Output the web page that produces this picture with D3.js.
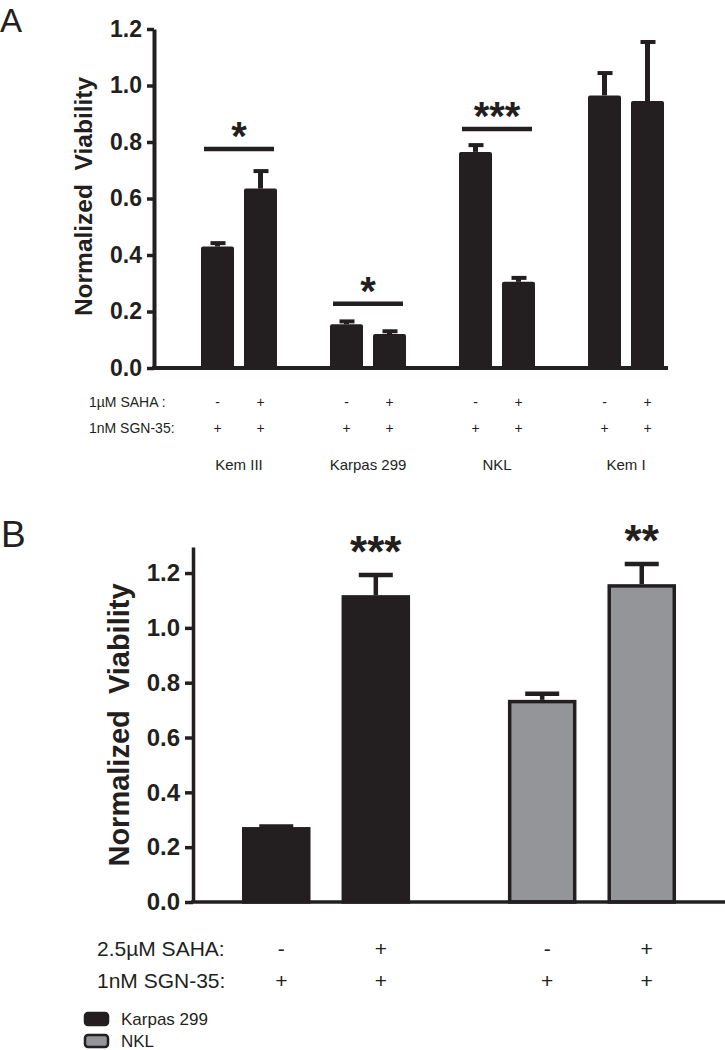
<!DOCTYPE html>
<html>
<head>
<meta charset="utf-8" />
<title>Normalized Viability</title>
<script src="https://d3js.org/d3.v7.min.js"></script>
<style>
    body { margin: 0; background: #fff; }
    text { font-family: "Liberation Sans", Arial, sans-serif; fill: #231f20; }
</style>
</head>
<body>
<script>
    // panel A data
    var cellsA = ["Kem III", "Karpas 299", "NKL", "Kem I"];
    var condA = ["minus", "plus"];
    var sahaA = ["-", "+"];
    var sgnA = ["+", "+"];
    var meanMinusA = [0.43, 0.155, 0.765, 0.965];
    var meanPlusA = [0.635, 0.12, 0.305, 0.945];
    var errMinusA = [0.012, 0.01, 0.024, 0.079];
    var errPlusA = [0.062, 0.01, 0.014, 0.209];
    var sigCellsA = ["Kem III", "Karpas 299", "NKL"];
    var sigLevelA = [0.775, 0.227, 0.846];
    var sigTextA = ["*", "*", "***"];
    var ticksA = [0, 0.2, 0.4, 0.6, 0.8, 1.0, 1.2];

    // panel B data
    var cellsB = ["Karpas 299", "NKL"];
    var condB = ["minus", "plus"];
    var sahaB = ["-", "+"];
    var sgnB = ["+", "+"];
    var meanMinusB = [0.267, 0.731];
    var meanPlusB = [1.113, 1.153];
    var errMinusB = [0.008, 0.029];
    var errPlusB = [0.08, 0.08];
    var sigPlusB = ["***", "**"];
    var fillB = ["#231f20", "#939598"];
    var ticksB = [0, 0.2, 0.4, 0.6, 0.8, 1.0, 1.2];

    var ink = "#231f20";
    var fmt = d3.format(".1f");

    var svg = d3.select("body").append("svg")
        .attr("width", 725)
        .attr("height", 1050);

    function rows(cells, means0, means1, errs0, errs1) {
        var out = [];
        cells.forEach(function (c, i) {
            out.push({ cell: c, cond: "minus", k: 0, mean: means0[i], err: errs0[i], i: i });
            out.push({ cell: c, cond: "plus", k: 1, mean: means1[i], err: errs1[i], i: i });
        });
        return out;
    }

    //===== panel A =====
    var dataA = rows(cellsA, meanMinusA, meanPlusA, errMinusA, errPlusA);
    var xA = d3.scaleBand().domain(cellsA).range([201, 664]).paddingInner(0.411);
    var xAin = d3.scaleBand().domain(condA).range([0, xA.bandwidth()]).paddingInner(0.2326);
    var yA = d3.scaleLinear().domain([0, 1.2]).range([368, 29]);
    var gA = svg.append("g");

    gA.selectAll("rect.bar").data(dataA).enter().append("rect")
        .attr("class", "bar")
        .attr("x", function (d) { return xA(d.cell) + xAin(d.cond); })
        .attr("y", function (d) { return yA(d.mean); })
        .attr("width", xAin.bandwidth())
        .attr("height", function (d) { return yA(0) - yA(d.mean); })
        .attr("rx", 2)
        .attr("fill", ink);

    function cxA(d) { return xA(d.cell) + xAin(d.cond) + xAin.bandwidth() / 2; }

    gA.selectAll("line.stem").data(dataA).enter().append("line")
        .attr("x1", cxA).attr("x2", cxA)
        .attr("y1", function (d) { return yA(d.mean); })
        .attr("y2", function (d) { return yA(d.mean + d.err); })
        .attr("stroke", ink).attr("stroke-width", 5);
    gA.selectAll("line.cap").data(dataA).enter().append("line")
        .attr("x1", function (d) { return cxA(d) - 7; })
        .attr("x2", function (d) { return cxA(d) + 8; })
        .attr("y1", function (d) { return yA(d.mean + d.err); })
        .attr("y2", function (d) { return yA(d.mean + d.err); })
        .attr("stroke", ink).attr("stroke-width", 4);

    // significance lines
    sigCellsA.forEach(function (c, i) {
        gA.append("line")
            .attr("x1", xA(c) + 3).attr("x2", xA(c) + xA.bandwidth() - 3)
            .attr("y1", yA(sigLevelA[i])).attr("y2", yA(sigLevelA[i]))
            .attr("stroke", ink).attr("stroke-width", 4.5);
        gA.append("text")
            .attr("x", xA(c) + xA.bandwidth() / 2)
            .attr("y", yA(sigLevelA[i]) + 1)
            .attr("text-anchor", "middle")
            .style("font-weight", "bold")
            .style("font-size", "40px")
            .text(sigTextA[i]);
    });

    // axes
    var axA = gA.append("g")
        .attr("transform", "translate(154,0)")
        .call(d3.axisLeft(yA).tickValues(ticksA).tickFormat(fmt).tickSize(7).tickSizeOuter(0).tickPadding(5));
    axA.select(".domain").attr("stroke", ink).attr("stroke-width", 4);
    axA.selectAll(".tick line").attr("stroke", ink).attr("stroke-width", 3.5);
    axA.selectAll(".tick text").attr("fill", ink)
        .style("font-family", "'Liberation Sans', Arial, sans-serif")
        .style("font-weight", "bold").style("font-size", "23px");
    gA.append("line")
        .attr("x1", 152).attr("x2", 668)
        .attr("y1", yA(0)).attr("y2", yA(0))
        .attr("stroke", ink).attr("stroke-width", 4);

    gA.append("text")
        .attr("transform", "translate(91.5," + ((yA(0) + yA(1.2)) / 2 - 2) + ") rotate(-90)")
        .attr("text-anchor", "middle")
        .style("font-weight", "bold").style("font-size", "24.5px")
        .style("white-space", "pre")
        .text("Normalized  Viability");

    gA.append("text").attr("x", 0).attr("y", 32)
        .style("font-size", "33px").text("A");

    // treatment labels
    gA.append("text").attr("x", 89).attr("y", 407).style("font-size", "14px").text("1\u00b5M SAHA :");
    gA.append("text").attr("x", 89).attr("y", 433).style("font-size", "14px").text("1nM SGN-35:");
    gA.selectAll("text.saha").data(dataA).enter().append("text")
        .attr("x", cxA).attr("y", 407).attr("text-anchor", "middle")
        .style("font-size", "14px")
        .text(function (d) { return sahaA[d.k]; });
    gA.selectAll("text.sgn").data(dataA).enter().append("text")
        .attr("x", cxA).attr("y", 433).attr("text-anchor", "middle")
        .style("font-size", "14px")
        .text(function (d) { return sgnA[d.k]; });
    gA.selectAll("text.cell").data(cellsA).enter().append("text")
        .attr("x", function (c) { return xA(c) + xA.bandwidth() / 2; })
        .attr("y", 470).attr("text-anchor", "middle")
        .style("font-size", "15px")
        .text(function (c) { return c; });

    //===== panel B =====
    var dataB = rows(cellsB, meanMinusB, meanPlusB, errMinusB, errPlusB);
    var xB = d3.scaleBand().domain(cellsB).range([242, 676]).paddingInner(0.368);
    var xBin = d3.scaleBand().domain(condB).range([0, xB.bandwidth()]).paddingInner(0.3116);
    var yB = d3.scaleLinear().domain([0, 1.295]).range([902, 547]);
    var gB = svg.append("g");
    var sw = 3.5;

    function cxB(d) { return xB(d.cell) + xBin(d.cond) + xBin.bandwidth() / 2; }

    gB.selectAll("rect.bar").data(dataB).enter().append("rect")
        .attr("x", function (d) { return xB(d.cell) + xBin(d.cond) + sw / 2; })
        .attr("y", function (d) { return yB(d.mean); })
        .attr("width", xBin.bandwidth() - sw)
        .attr("height", function (d) { return yB(0) - yB(d.mean); })
        .attr("fill", function (d) { return fillB[d.i]; })
        .attr("stroke", ink).attr("stroke-width", sw);

    gB.selectAll("line.stem").data(dataB).enter().append("line")
        .attr("x1", cxB).attr("x2", cxB)
        .attr("y1", function (d) { return yB(d.mean) - sw / 2; })
        .attr("y2", function (d) { return yB(d.mean + d.err); })
        .attr("stroke", ink).attr("stroke-width", 4.5);
    gB.selectAll("line.cap").data(dataB).enter().append("line")
        .attr("x1", function (d) { return cxB(d) - 17; })
        .attr("x2", function (d) { return cxB(d) + 17; })
        .attr("y1", function (d) { return yB(d.mean + d.err); })
        .attr("y2", function (d) { return yB(d.mean + d.err); })
        .attr("stroke", ink).attr("stroke-width", 4.5);

    gB.selectAll("text.star").data(dataB.filter(function (d) { return d.k === 1; })).enter().append("text")
        .attr("x", cxB)
        .attr("y", function (d) { return yB(d.mean + d.err) - 8; })
        .attr("text-anchor", "middle")
        .style("font-weight", "bold").style("font-size", "44px")
        .text(function (d) { return sigPlusB[d.i]; });

    var axB = gB.append("g")
        .attr("transform", "translate(193,0)")
        .call(d3.axisLeft(yB).tickValues(ticksB).tickFormat(fmt).tickSize(8).tickSizeOuter(0).tickPadding(5));
    axB.select(".domain").attr("stroke", ink).attr("stroke-width", 3.5);
    axB.selectAll(".tick line").attr("stroke", ink).attr("stroke-width", 3.5);
    axB.selectAll(".tick text").attr("fill", ink)
        .style("font-family", "'Liberation Sans', Arial, sans-serif")
        .style("font-weight", "bold").style("font-size", "24px");
    gB.append("line")
        .attr("x1", 191).attr("x2", 725)
        .attr("y1", yB(0)).attr("y2", yB(0))
        .attr("stroke", ink).attr("stroke-width", 3.5);

    gB.append("text")
        .attr("transform", "translate(128.5,725) rotate(-90)")
        .attr("text-anchor", "middle")
        .style("font-weight", "bold").style("font-size", "29px")
        .style("white-space", "pre")
        .text("Normalized  Viability");

    gB.append("text").attr("x", 1).attr("y", 547)
        .style("font-size", "37px").text("B");

    gB.append("text").attr("x", 97).attr("y", 955.5).style("font-size", "21px").text("2.5\u00b5M SAHA:");
    gB.append("text").attr("x", 97).attr("y", 987.5).style("font-size", "21px").text("1nM SGN-35:");
    gB.selectAll("text.saha").data(dataB).enter().append("text")
        .attr("x", function (d) { return cxB(d) + 5; }).attr("y", 955.5).attr("text-anchor", "middle")
        .style("font-size", "21px")
        .text(function (d) { return sahaB[d.k]; });
    gB.selectAll("text.sgn").data(dataB).enter().append("text")
        .attr("x", function (d) { return cxB(d) + 5; }).attr("y", 987.5).attr("text-anchor", "middle")
        .style("font-size", "21px")
        .text(function (d) { return sgnB[d.k]; });

    // legend
    var leg = gB.selectAll("g.leg").data(cellsB).enter().append("g")
        .attr("transform", function (c, i) { return "translate(84," + (1012 + i * 22) + ")"; });
    leg.append("rect")
        .attr("x", 1).attr("y", 1).attr("width", 23).attr("height", 12).attr("rx", 3)
        .attr("fill", function (c, i) { return fillB[i]; })
        .attr("stroke", ink).attr("stroke-width", 2.5);
    leg.append("text")
        .attr("x", 37).attr("y", 12.5)
        .style("font-size", "17px")
        .text(function (c) { return c; });
</script>
</body>
</html>
